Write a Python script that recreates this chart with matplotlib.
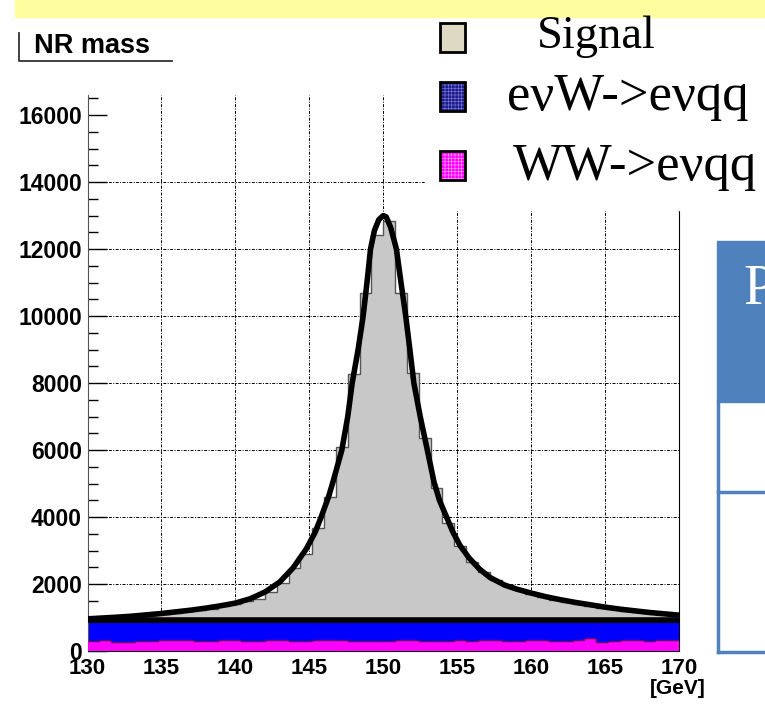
import numpy as np
import matplotlib
matplotlib.use('Agg')
import matplotlib.pyplot as plt
from matplotlib.patches import Rectangle
from matplotlib.ticker import MultipleLocator

# NR mass, 50 bins of 0.8 GeV between 130 and 170 GeV
x_lo, x_hi, n_bins = 130, 170, 50

ww_evqq = [300, 330, 260, 260, 300, 300, 330, 330, 330, 300, 300, 330, 330, 310, 300, 320, 330,
           310, 300, 320, 330, 330, 310, 300, 290, 310, 320, 330, 300, 310, 300, 320, 310, 330,
           320, 310, 300, 320, 330, 310, 300, 320, 400, 280, 300, 320, 330, 310, 320, 330]
enuw_evqq = [560, 540, 610, 600, 570, 565, 540, 535, 545, 570, 565, 540, 535, 560, 570, 545, 540,
             560, 570, 550, 540, 545, 565, 570, 580, 555, 550, 540, 570, 560, 570, 550, 560, 540,
             545, 560, 570, 545, 540, 560, 570, 550, 470, 590, 570, 545, 540, 560, 550, 540]
signal = [70, 90, 115, 140, 170, 200, 230, 270, 310, 350, 400, 460, 530, 610, 670, 890, 1160,
          1610, 2030, 2800, 3730, 5220, 7400, 9820, 11550, 11960, 9820, 7430, 5490, 4000, 2950,
          2260, 1790, 1490, 1250, 1090, 970, 850, 730, 650, 580, 520, 470, 420, 370, 330, 290,
          250, 220, 190]

# fit curve
fit_x = [130.0, 131.0, 132.0, 133.0, 134.0, 135.0, 136.0, 137.0, 138.0, 139.0, 140.0, 141.0,
         142.0, 143.0, 143.9, 144.8, 145.4, 145.8, 146.3, 146.6, 147.2, 147.6, 147.9, 148.3,
         148.64, 148.9, 149.14, 149.4, 149.7, 150.0, 150.2, 150.5, 150.89, 151.2, 151.52, 151.8,
         152.07, 152.5, 152.98, 153.43, 153.8, 154.28, 154.7, 155.19, 155.8, 156.5, 157.2, 158.2,
         159.0, 160.0, 161.0, 162.0, 163.0, 164.0, 165.0, 166.0, 167.0, 168.0, 169.0, 170.0]
fit_y = [960, 985, 1010, 1040, 1080, 1120, 1170, 1220, 1280, 1350, 1430, 1560,
         1760, 2060, 2480, 3050, 3550, 4000, 4600, 5050, 6000, 7000, 8000, 9000,
         10000, 11000, 12000, 12550, 12880, 13000, 12960, 12650, 12000, 11000, 10000, 9000,
         8000, 7000, 6000, 5050, 4500, 4000, 3560, 3150, 2780, 2450, 2200, 1970,
         1850, 1730, 1620, 1530, 1450, 1380, 1310, 1250, 1200, 1150, 1110, 1070]
bkg_level = 920

legend_labels = ['Signal', 'e\u03bdW->e\u03bdqq', 'WW->e\u03bdqq']
legend_colors = ['#ddd9c3', '#1c1c8c', '#ff00ff']
hatch_colors = [None, '#8080d8', '#ffb0ff']

plt.rcParams['hatch.linewidth'] = 0.4
fig = plt.figure(figsize=(7.65, 7.08), dpi=100)
W, H = 765, 708

ax = fig.add_axes([87.5 / W, (H - 651) / H, (679 - 87.5) / W, (651 - 95) / H])
edges = np.linspace(x_lo, x_hi, n_bins + 1)
ww = np.array(ww_evqq)
bg = ww + np.array(enuw_evqq)
total = bg + np.array(signal)

ax.set_axisbelow(True)
ax.stairs(total, edges, baseline=0, fill=True, color='#c8c8c8', zorder=2)
ax.stairs(total, edges, baseline=None, color='#555555', lw=1, zorder=2.2)
ax.stairs(bg, edges, baseline=0, fill=True, color='#0000ff', zorder=2.4)
ax.stairs(bg, edges, baseline=None, color='#000060', lw=1, zorder=2.5)
ax.stairs(ww, edges, baseline=0, fill=True, color='#ff00ff', zorder=2.6)
ax.stairs(ww, edges, baseline=None, color='#600060', lw=1, zorder=2.7)
ax.hlines(bkg_level, x_lo, x_hi, color='black', lw=4, zorder=3)
ax.plot(fit_x, fit_y, color='black', lw=4, solid_capstyle='butt', solid_joinstyle='round',
        zorder=3.2)

ax.set_xlim(x_lo, x_hi)
ax.set_ylim(0, 16600)
grid_style = dict(color='black', lw=0.7, ls=(0, (3, 1.5, 1, 1.5)), zorder=0.5)
for gx in range(135, 170, 5):
    ax.axvline(gx, **grid_style)
for gy in range(2000, 16000, 2000):
    ax.axhline(gy, **grid_style)

ax.xaxis.set_major_locator(MultipleLocator(5))
ax.yaxis.set_major_locator(MultipleLocator(2000))
ax.yaxis.set_minor_locator(MultipleLocator(500))
ax.tick_params(axis='y', which='major', direction='in', length=14, width=1, pad=4)
ax.tick_params(axis='y', which='minor', direction='in', length=7, width=1)
ax.tick_params(axis='x', which='both', length=0, pad=5)
for lab in ax.get_xticklabels():
    lab.set_fontfamily('Liberation Sans')
    lab.set_fontweight('bold')
    lab.set_fontsize(16)
for lab in ax.get_yticklabels():
    lab.set_fontfamily('Liberation Sans')
    lab.set_fontweight('bold')
    lab.set_fontsize(16.5)
ax.spines['top'].set_visible(False)
ax.spines['left'].set_color('#555555')

# overlay in pixel coordinates for the surrounding slide elements
ov = fig.add_axes([0, 0, 1, 1], facecolor='none')
ov.set_xlim(0, W)
ov.set_ylim(H, 0)
ov.axis('off')

ov.add_patch(Rectangle((425, 0), 340, 210, color='white', zorder=1))
ov.add_patch(Rectangle((15, 0), 750, 17, color='#fefe9e', zorder=2))

# title pave
ov.plot([19, 19, 172], [33, 61, 61], color='#333333', lw=1.3)
ov.text(34, 46, 'NR mass', fontsize=19.5, fontweight='bold', family='Liberation Sans',
        va='center', ha='left')

# legend
sw_y = [23, 82, 151]
txt_x = [537, 507, 513]
txt_y = [37, 97, 167]
txt_size = [33.5, 38, 38]
for i, lab in enumerate(legend_labels):
    if hatch_colors[i] is None:
        ov.add_patch(Rectangle((440, sw_y[i]), 25, 29, facecolor=legend_colors[i],
                               edgecolor='black', lw=2, zorder=3))
    else:
        ov.add_patch(Rectangle((440, sw_y[i]), 25, 29, facecolor=legend_colors[i],
                               edgecolor=hatch_colors[i], hatch='+++++', lw=0, zorder=3))
        ov.add_patch(Rectangle((440, sw_y[i]), 25, 29, facecolor='none',
                               edgecolor='black', lw=2, zorder=4))
    ov.text(txt_x[i], txt_y[i], lab, fontsize=txt_size[i], family='Liberation Serif',
            va='center', ha='left', zorder=5)

# partial table on the right
tbl_blue = '#4f81bd'
ov.add_patch(Rectangle((717, 241), 60, 161, color=tbl_blue, zorder=3))
ov.plot([718, 718], [402, 652], color=tbl_blue, lw=2.5, zorder=3)
ov.plot([718, 765], [492, 492], color=tbl_blue, lw=2.5, zorder=3)
ov.plot([718, 765], [652, 652], color=tbl_blue, lw=2.5, zorder=3)
ov.text(743, 290, 'P', color='white', fontsize=40, family='Liberation Serif',
        va='center', ha='left', zorder=4, clip_on=True)

ov.text(650, 689, '[GeV]', fontsize=15, fontweight='bold', family='Liberation Sans',
        va='center', ha='left')

fig.savefig('out.png', dpi=100)
